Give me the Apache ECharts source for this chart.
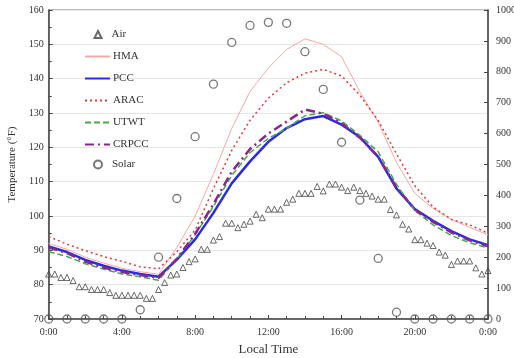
<!DOCTYPE html>
<html><head><meta charset="utf-8">
<script src="https://cdn.jsdelivr.net/npm/echarts@6/dist/echarts.min.js"></script>
<style>html,body{margin:0;padding:0;background:#fff}#c{width:514px;height:358px}</style>
</head><body><div id="c"></div>
<script>
// hourly time grid (hours of day)
const hours = [0,1,2,3,4,5,6,7,8,9,10,11,12,13,14,15,16,17,18,19,20,21,22,23,24];
// Air temperature every 20 minutes (°F)
const airTemp = [83.1,83.1,82.1,82.1,81.2,79.4,79.4,78.6,78.6,78.6,77.7,76.9,76.9,76.9,76.9,76.9,76.0,76.0,78.6,80.6,
  82.8,83.1,85.0,86.7,87.5,90.3,90.3,93.0,94.0,97.9,97.9,96.6,97.6,98.5,100.5,99.5,102.0,102.0,102.0,104.0,
  104.9,106.6,106.6,106.6,108.6,107.3,109.3,109.3,108.4,107.4,108.4,107.4,106.6,105.8,104.9,104.9,101.9,100.3,97.6,96.2,
  93.1,93.1,92.1,91.4,89.5,88.6,85.9,86.9,86.9,86.9,84.9,83.1,84.1];
const airStep = 1 / 3; // 20 minutes
// Solar radiation, hourly (W/m²)
const solar = [0,0,0,0,0,30,200,390,590,760,895,950,960,957,865,743,572,385,196,22,0,0,0,0,0];
// Surface temperatures, hourly (°F)
const hma   = [92.0,90.3,88.0,86.3,84.8,83.8,83.0,90.8,100.0,112.2,125.5,136.3,143.1,148.5,151.6,150.0,146.4,136.2,127.3,115.6,106.6,102.2,99.0,96.7,94.5];
const pcc   = [91.1,89.5,87.2,85.5,84.1,83.1,82.3,87.3,93.2,100.9,109.5,115.9,121.6,125.6,128.2,129.1,126.6,123.0,117.2,108.0,102.0,98.6,95.6,93.2,91.5];
const arac  = [94.0,91.8,89.9,88.2,86.8,85.2,84.6,89.6,95.9,108.0,119.1,127.9,134.3,138.8,141.6,142.7,140.8,135.2,127.8,118.1,108.8,102.6,99.0,97.4,95.0];
const utwt  = [89.6,88.2,86.1,84.5,83.1,82.3,81.3,87.5,94.5,102.8,111.8,118.5,122.6,125.5,129.2,130.1,127.7,123.5,118.7,109.2,101.6,97.4,94.3,92.2,90.7];
const crpcc = [90.8,89.2,86.7,85.0,83.7,82.8,82.0,87.5,94.8,103.5,112.9,119.5,124.0,127.5,131.0,129.8,127.0,122.8,117.3,108.3,101.9,98.3,95.2,92.9,91.2];
const xTicks = [0,4,8,12,16,20,24];

const pair = (xs, ys) => ys.map((v, i) => [xs[i], v]);
const FONT = 'Liberation Serif';
const chart = echarts.init(document.getElementById('c'), null, {renderer: 'canvas'});
const lineSeries = (name, data, color, width, type) => ({
  name, type: 'line', data: pair(hours, data), symbol: 'none', z: 3,
  lineStyle: {color, width, type}, itemStyle: {color}
});
const legendText = {fontFamily: FONT, fontSize: 11, color: '#333'};
chart.setOption({
  backgroundColor: '#fff',
  animation: false,
  grid: {left: 48.7, right: 26, top: 10, bottom: 39, outerBoundsMode: 'none', containLabel: false,
    show: true, borderColor: '#aaa', borderWidth: 1.5, backgroundColor: 'transparent'},
  legend: [{
    orient: 'vertical', left: 93.5, top: 29, padding: 0, itemWidth: 7, itemHeight: 7, itemGap: 10,
    textStyle: Object.assign({padding: [0, 0, 0, 5]}, legendText),
    data: ['Air']
  }, {
    orient: 'vertical', left: 84, top: 51, padding: 0, itemWidth: 25, itemHeight: 12, itemGap: 11,
    itemStyle: {opacity: 0},
    textStyle: Object.assign({padding: [0, 0, 0, -2]}, legendText),
    data: ['HMA','PCC','ARAC','UTWT','CRPCC']
  }, {
    orient: 'vertical', left: 93, top: 159, padding: 0, itemWidth: 8, itemHeight: 8, itemGap: 10,
    textStyle: Object.assign({padding: [0, 0, 0, 5]}, legendText),
    data: ['Solar']
  }],
  xAxis: {
    type: 'value', min: 0, max: 24, interval: 4,
    name: 'Local Time', nameLocation: 'middle', nameGap: 24,
    nameTextStyle: {fontFamily: FONT, fontSize: 13, color: '#333'},
    axisLine: {lineStyle: {color: '#444', width: 1.5}},
    axisTick: {show: true, inside: true, length: 4, lineStyle: {color: '#444'}},
    minorTick: {show: true, splitNumber: 4, length: 3, lineStyle: {color: '#444'}},
    splitLine: {show: false},
    axisLabel: {fontFamily: FONT, fontSize: 10, color: '#333', margin: 8,
      formatter: v => (xTicks.indexOf(v) >= 0 ? (v % 24) + ':00' : '')}
  },
  yAxis: [{
    type: 'value', min: 70, max: 160, interval: 10,
    name: 'Temperature (°F)', nameLocation: 'middle', nameGap: 20,
    nameTextStyle: {fontFamily: FONT, fontSize: 11, color: '#333'},
    axisLine: {show: true, lineStyle: {color: '#444', width: 1.5}},
    axisTick: {show: true, inside: true, length: 4, lineStyle: {color: '#444'}},
    minorTick: {show: true, splitNumber: 2, length: 3, lineStyle: {color: '#444'}},
    splitLine: {show: true, lineStyle: {color: '#e6e6e6', width: 1}},
    axisLabel: {fontFamily: FONT, fontSize: 10, color: '#333', margin: 5}
  }, {
    type: 'value', min: 0, max: 1000, interval: 100, position: 'right',
    axisLine: {show: true, lineStyle: {color: '#444', width: 1.5}},
    axisTick: {show: true, inside: true, length: 4, lineStyle: {color: '#444'}},
    splitLine: {show: false},
    axisLabel: {fontFamily: FONT, fontSize: 10, color: '#333', margin: 8, formatter: v => String(v)}
  }],
  series: [
    {name: 'Air', type: 'scatter', z: 2, data: pair(airTemp.map((_, i) => i * airStep), airTemp),
      symbol: 'triangle', symbolSize: 6,
      itemStyle: {color: 'rgba(255,255,255,0)', borderColor: '#444', borderWidth: 1}},
    lineSeries('HMA', hma, '#f6a8a8', 1, 'solid'),
    lineSeries('PCC', pcc, '#2a2ae6', 2.5, 'solid'),
    lineSeries('ARAC', arac, '#e23a3a', 1.5, [2, 3]),
    lineSeries('UTWT', utwt, '#4aa84a', 1.5, [6, 3]),
    lineSeries('CRPCC', crpcc, '#8a2590', 2.5, [9, 4, 2, 4]),
    {name: 'Solar', type: 'scatter', yAxisIndex: 1, z: 4, data: pair(hours, solar),
      symbol: 'circle', symbolSize: 8,
      itemStyle: {color: 'rgba(255,255,255,0)', borderColor: '#555', borderWidth: 1.3}}
  ]
});
</script></body></html>
